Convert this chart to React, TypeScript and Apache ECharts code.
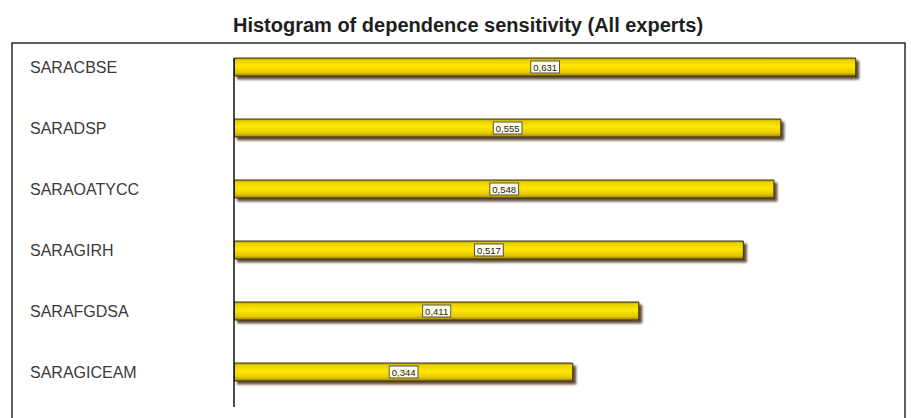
import React, { useEffect, useRef } from "react";
import * as echarts from "echarts";

const categories = ["SARACBSE", "SARADSP", "SARAOATYCC", "SARAGIRH", "SARAFGDSA", "SARAGICEAM"];
const values = [0.631, 0.555, 0.548, 0.517, 0.411, 0.344];
const titleText = "Histogram of dependence sensitivity (All experts)";

export default function App() {
  const ref = useRef<HTMLDivElement>(null);
  useEffect(() => {
    if (!ref.current) return;
    const chart = echarts.init(ref.current, undefined, { renderer: "svg" });
    chart.setOption({
      animation: false,
      backgroundColor: "#ffffff",
      title: {
        text: titleText,
        left: 463,
        textAlign: "center",
        top: 10,
        textStyle: {
          fontFamily: "Liberation Sans, Arial, sans-serif",
          fontSize: 20,
          fontWeight: "bold",
          color: "#1e1e1e",
        },
      },
      graphic: [
        {
          type: "rect",
          shape: { x: 12, y: 43, width: 893, height: 420 },
          style: { fill: "none", stroke: "#2a2a2a", lineWidth: 1.5 },
          silent: true,
          z: 0,
        },
        {
          type: "line",
          shape: { x1: 234, y1: 58, x2: 234, y2: 407 },
          style: { stroke: "#111", lineWidth: 1.5 },
          silent: true,
          z: 10,
        },
      ],
      grid: { left: 234, top: 36.5, width: 641, height: 366, containLabel: false },
      xAxis: {
        type: "value",
        min: 0,
        max: 0.65,
        show: false,
      },
      yAxis: {
        type: "category",
        data: categories,
        inverse: true,
        axisLine: { show: false },
        axisTick: { show: false },
        splitLine: { show: false },
        axisLabel: {
          align: "left",
          margin: 204,
          fontFamily: "Liberation Sans, Arial, sans-serif",
          fontSize: 16,
          color: "#3a3a3a",
        },
      },
      series: [
        {
          type: "bar",
          data: values,
          barWidth: 19,
          itemStyle: {
            color: new echarts.graphic.LinearGradient(0, 0, 0, 1, [
              { offset: 0, color: "#a89400" },
              { offset: 0.12, color: "#e8d000" },
              { offset: 0.45, color: "#ffe800" },
              { offset: 0.8, color: "#e6c800" },
              { offset: 1, color: "#9c8000" },
            ]),
            borderColor: "#3a3010",
            borderWidth: 1,
            shadowColor: "rgba(70,50,20,0.85)",
            shadowBlur: 2,
            shadowOffsetX: 3,
            shadowOffsetY: 3,
          },
          label: {
            show: true,
            position: "inside",
            formatter: (p: any) => String(p.value.toFixed(3)).replace(".", ","),
            fontFamily: "Liberation Sans, Arial, sans-serif",
            fontSize: 9.5,
            color: "#222",
            backgroundColor: "#fffbe6",
            borderColor: "#555",
            borderWidth: 1,
            padding: [1, 2, 0, 2],
          },
        },
      ],
    });
    return () => chart.dispose();
  }, []);
  return <div ref={ref} style={{ position: "fixed", left: 0, top: 0, width: 911, height: 418 }} />;
}
